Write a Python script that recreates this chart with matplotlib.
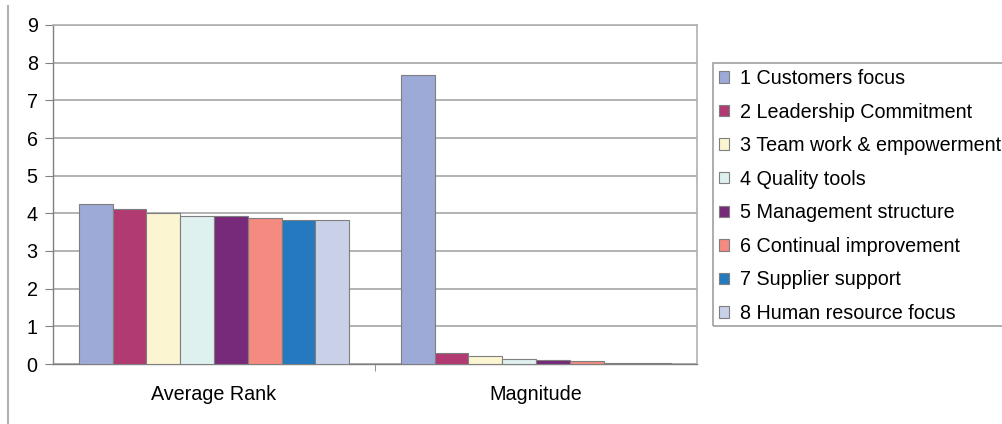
import matplotlib.pyplot as plt
from matplotlib.lines import Line2D
from matplotlib.patches import Rectangle
import numpy as np

plt.rcParams['font.family'] = ['Liberation Sans', 'DejaVu Sans']

# data
categories = ['Average Rank', 'Magnitude']
series_names = ['1 Customers focus', '2 Leadership Commitment', '3 Team work & empowerment',
                '4 Quality tools', '5 Management structure', '6 Continual improvement',
                '7 Supplier support', '8 Human resource focus']
avg_rank = [4.25, 4.12, 4.0, 3.92, 3.92, 3.87, 3.82, 3.82]
magnitude = [7.68, 0.28, 0.2, 0.12, 0.11, 0.07, 0.03, 0.03]
colors = ['#9DAAD8', '#B23A73', '#FBF5D2', '#DFF1EF', '#772A7A', '#F48A80', '#2479BF', '#C9D1E8']

fs = 14.2
fig = plt.figure(figsize=(10.03, 4.24), dpi=100)
W, H = 1003, 424
ax = fig.add_axes([53 / W, (H - 364) / H, 644 / W, 339 / H])

x = np.arange(len(categories))
n = len(series_names)
bw = 0.84 / n
for i in range(n):
    vals = [avg_rank[i], magnitude[i]]
    ax.bar(x - 0.42 + bw * (i + 0.5), vals, width=bw, color=colors[i],
           edgecolor='#7f7f7f', linewidth=0.8, label=series_names[i], zorder=3)

ax.set_xlim(-0.5, 1.5)
ax.set_ylim(0, 9)
ax.set_yticks(range(10))
ax.yaxis.grid(True, color='#a6a6a6', linewidth=1.2, zorder=0)
ax.set_xticks(x)
ax.set_xticklabels(categories)
ax.set_xticks([0.5], minor=True)
ax.tick_params(axis='x', which='major', length=0, pad=15, labelsize=fs)
ax.tick_params(axis='x', which='minor', length=5, color='#808080')
ax.tick_params(axis='y', length=6, color='#808080', labelsize=fs, pad=5)
for side in ['left', 'bottom']:
    ax.spines[side].set_color('#808080')
    ax.spines[side].set_linewidth(1.0)
for side in ['right', 'top']:
    ax.spines[side].set_color('#b0b0b0')
    ax.spines[side].set_linewidth(1.2)

# legend box runs off the right edge of the picture, as in the original
fig.legend(loc='upper left', bbox_to_anchor=(713 / W, 1 - 63 / H), fontsize=fs,
           frameon=False, handlelength=0.5, handleheight=0.5, handletextpad=0.55,
           labelspacing=0.74, borderpad=0.3, borderaxespad=0)
fig.add_artist(Rectangle((713 / W, 1 - 326 / H), 320 / W, 263 / H, transform=fig.transFigure,
                         facecolor='none', edgecolor='#a0a0a0', linewidth=1.2))

fig.add_artist(Line2D([8 / W, 8 / W], [0, 1 - 6 / H], transform=fig.transFigure,
                      color='#b0b0b0', linewidth=1.5))

fig.savefig('out.png', dpi=100)
